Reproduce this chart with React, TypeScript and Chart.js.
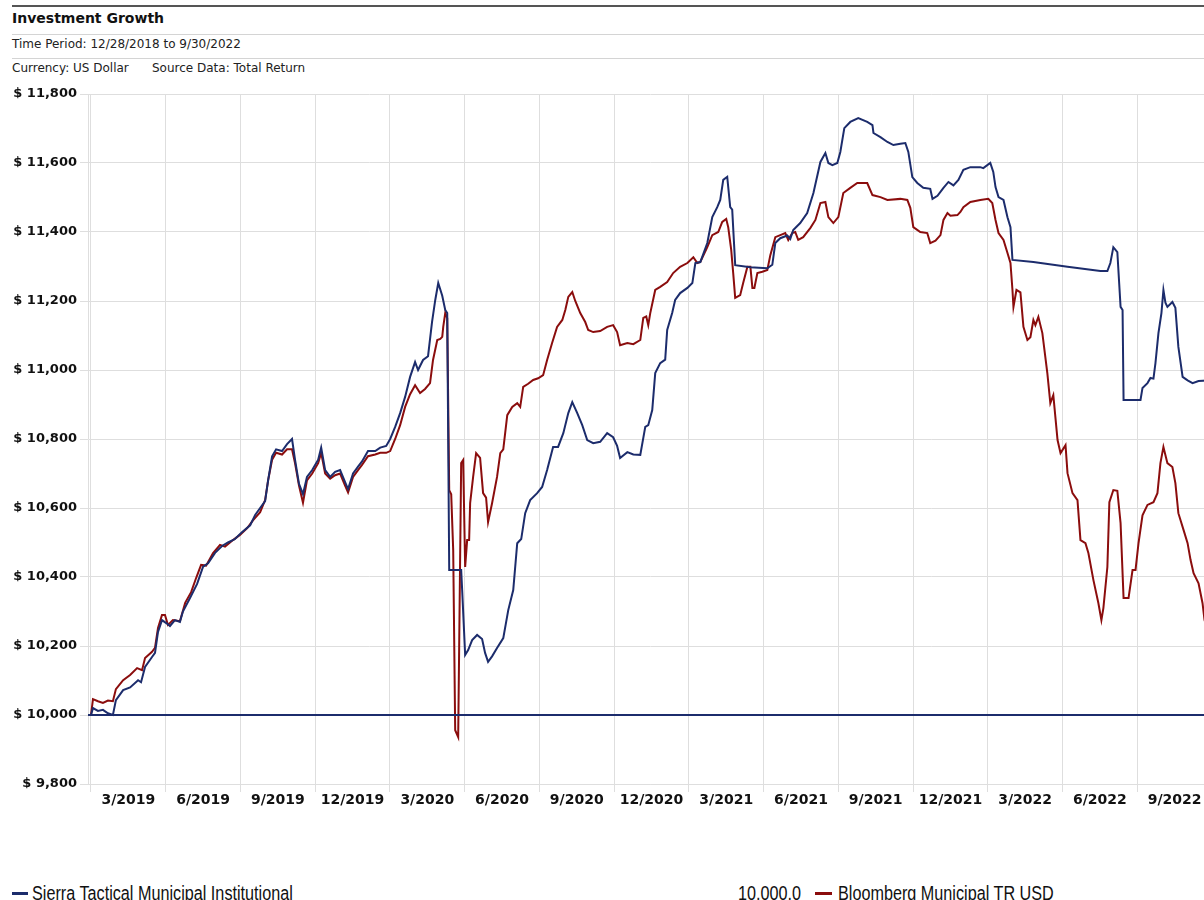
import React, { useEffect, useRef } from 'react';
import { Chart, registerables } from 'chart.js';

Chart.register(...registerables);

// Quarter labels (each label sits inside the quarter that ends in that month)
const quarterLabels = [
  '3/2019', '6/2019', '9/2019', '12/2019',
  '3/2020', '6/2020', '9/2020', '12/2020',
  '3/2021', '6/2021', '9/2021', '12/2021',
  '3/2022', '6/2022', '9/2022',
];

const yMin = 9800;
const yMax = 11800;
const yStep = 200;
const baselineValue = 10000;

// x values: months elapsed since 12/28/2018
const sierraMonths = [
  0, 0.08, 0.28, 0.48, 0.68, 0.88, 1.0, 1.29, 1.57, 1.89, 2.01, 2.17, 2.45, 2.57, 2.69, 2.85,
  3.05, 3.17, 3.37, 3.57, 3.69, 3.98, 4.26, 4.5, 4.7, 4.98, 5.26, 5.5, 5.78, 6.06, 6.39, 6.59,
  6.79, 6.99, 7.11, 7.27, 7.43, 7.67, 7.87, 8.07, 8.19, 8.35, 8.51, 8.67, 8.88, 9.12, 9.24, 9.4,
  9.6, 9.8, 10.0, 10.2, 10.32, 10.52, 10.72, 10.88, 11.12, 11.41, 11.61, 11.85, 12.01, 12.21,
  12.41, 12.61, 12.81, 13.01, 13.13, 13.33, 13.53, 13.69, 13.82, 13.94, 14.1, 14.22, 14.3, 14.38,
  14.86, 14.9, 15.02, 15.14, 15.3, 15.5, 15.7, 15.82, 15.94, 16.1, 16.3, 16.55, 16.75, 16.95,
  17.11, 17.27, 17.43, 17.63, 17.91, 18.11, 18.31, 18.55, 18.75, 18.96, 19.16, 19.32, 19.52,
  19.72, 19.92, 20.16, 20.44, 20.72, 20.96, 21.12, 21.24, 21.53, 21.77, 22.05, 22.25, 22.37,
  22.53, 22.65, 22.85, 23.05, 23.13, 23.33, 23.45, 23.65, 23.94, 24.14, 24.26, 24.46, 24.74,
  24.94, 25.14, 25.26, 25.38, 25.54, 25.66, 25.74, 25.86, 26.47, 27.15, 27.35, 27.47, 27.67,
  27.95, 28.07, 28.19, 28.47, 28.75, 29.0, 29.28, 29.48, 29.6, 29.76, 29.96, 30.08, 30.24,
  30.48, 30.8, 31.16, 31.37, 31.41, 31.69, 31.97, 32.21, 32.49, 32.69, 32.81, 32.97, 33.17,
  33.41, 33.69, 33.78, 33.98, 34.22, 34.42, 34.62, 34.82, 35.02, 35.3, 35.7, 35.82, 36.1, 36.22,
  36.31, 36.43, 36.63, 36.79, 36.91, 36.99, 37.83, 39.2, 40.52, 40.8, 40.92, 41.04, 41.2, 41.33,
  41.41, 41.45, 42.13, 42.21, 42.41, 42.53, 42.65, 42.73, 42.85, 42.97, 43.05, 43.13, 43.21,
  43.41, 43.53, 43.65, 43.82, 44.02, 44.22, 44.46, 45.0,
];
const sierraValues = [
  10000, 10020, 10012, 10015, 10005, 10000, 10043, 10072, 10080, 10101, 10095, 10139, 10168, 10180, 10241, 10275,
  10265, 10258, 10275, 10270, 10300, 10340, 10380, 10430, 10440, 10470, 10490, 10500, 10510, 10530, 10550, 10580,
  10600, 10620, 10680, 10750, 10770, 10765, 10785, 10800, 10740, 10670, 10640, 10690, 10710, 10740, 10775, 10710,
  10690, 10705, 10710, 10675, 10655, 10700, 10720, 10735, 10765, 10765, 10775, 10780, 10800, 10835,
  10875, 10922, 10980, 11023, 11000, 11029, 11040, 11139, 11203, 11252, 11215, 11174, 11165, 10420,
  10420, 10362, 10174, 10188, 10217, 10232, 10220, 10180, 10154, 10170, 10194, 10223, 10304, 10362,
  10498, 10510, 10585, 10623, 10643, 10661, 10710, 10777, 10777, 10817, 10875, 10907, 10875,
  10840, 10797, 10788, 10792, 10817, 10805, 10780, 10745, 10762, 10755, 10754, 10835, 10840,
  10884, 10991, 11020, 11030, 11116, 11165, 11203, 11223, 11238, 11252, 11310, 11313, 11368,
  11443, 11472, 11493, 11551, 11560, 11472, 11465, 11304, 11298, 11295, 11305, 11368, 11382,
  11390, 11380, 11406, 11426, 11455, 11513, 11603, 11629, 11600, 11594, 11600, 11632, 11701,
  11719, 11730, 11719, 11710, 11687, 11675, 11661, 11652, 11656, 11658, 11632, 11559, 11542,
  11528, 11525, 11496, 11505, 11528, 11545, 11535, 11551, 11580, 11588, 11588, 11585, 11600, 11574,
  11530, 11501, 11493, 11443, 11414, 11319, 11313, 11299, 11287, 11287, 11310, 11356, 11342, 11183,
  11174, 10913, 10913, 10948, 10962, 10977, 10975, 11020, 11107, 11165, 11232, 11195, 11183,
  11197, 11180, 11067, 10980, 10970, 10962, 10968, 10970,
];

const bloombergMonths = [
  0, 0.08, 0.28, 0.48, 0.68, 0.88, 1.0, 1.29, 1.57, 1.85, 2.05, 2.17, 2.45, 2.57, 2.69, 2.85, 2.97,
  3.09, 3.29, 3.57, 3.78, 4.02, 4.22, 4.42, 4.62, 4.9, 5.18, 5.38, 5.7, 5.98, 6.27, 6.51, 6.79,
  6.99, 7.11, 7.27, 7.43, 7.67, 7.87, 8.07, 8.19, 8.35, 8.51, 8.67, 8.88, 9.12, 9.24, 9.4, 9.6,
  9.8, 10.0, 10.2, 10.32, 10.52, 10.72, 10.88, 11.12, 11.41, 11.61, 11.85, 12.01, 12.21, 12.41,
  12.61, 12.81, 13.01, 13.21, 13.41, 13.61, 13.73, 13.9, 14.02, 14.1, 14.14, 14.22, 14.3, 14.38,
  14.46, 14.54, 14.62, 14.74, 14.78, 14.86, 14.94, 15.02, 15.1, 15.18, 15.22, 15.34, 15.46, 15.62,
  15.74, 15.86, 15.94, 16.1, 16.3, 16.43, 16.55, 16.71, 16.91, 17.11, 17.23, 17.35, 17.55, 17.75,
  17.95, 18.15, 18.31, 18.51, 18.71, 18.92, 19.04, 19.16, 19.32, 19.44, 19.64, 19.84, 19.96,
  20.16, 20.44, 20.72, 20.96, 21.12, 21.24, 21.53, 21.77, 22.05, 22.17, 22.29, 22.37, 22.45,
  22.65, 22.85, 23.13, 23.37, 23.65, 23.94, 24.18, 24.34, 24.46, 24.74, 24.94, 25.18, 25.34,
  25.5, 25.58, 25.7, 25.78, 25.86, 26.06, 26.18, 26.35, 26.47, 26.55, 26.63, 26.75, 26.95, 27.15,
  27.27, 27.47, 27.67, 27.87, 27.99, 28.15, 28.27, 28.39, 28.59, 28.88, 29.08, 29.28, 29.48,
  29.6, 29.8, 30.0, 30.2, 30.48, 30.76, 31.16, 31.37, 31.69, 31.97, 32.49, 32.77, 32.89, 33.01,
  33.29, 33.57, 33.69, 33.9, 34.1, 34.22, 34.38, 34.5, 34.78, 34.9, 35.02, 35.3, 35.7, 36.02,
  36.18, 36.31, 36.43, 36.63, 36.79, 36.91, 36.99, 37.03, 37.15, 37.31, 37.43, 37.59, 37.71,
  37.83, 37.91, 38.03, 38.19, 38.39, 38.51, 38.63, 38.8, 38.92, 39.12, 39.2, 39.4, 39.6, 39.72,
  39.92, 40.04, 40.24, 40.44, 40.56, 40.64, 40.8, 40.88, 41.04, 41.2, 41.33, 41.45, 41.65, 41.81,
  41.93, 42.05, 42.21, 42.41, 42.65, 42.81, 42.93, 43.05, 43.21, 43.41, 43.53, 43.65, 43.86,
  44.02, 44.14, 44.26, 44.46, 44.62, 44.7, 44.86, 45.0,
];
const bloombergValues = [
  10000, 10046, 10040, 10035, 10042, 10040, 10075, 10101, 10116, 10136, 10130, 10165, 10183, 10195, 10252, 10290, 10290,
  10261, 10275, 10272, 10325, 10356, 10397, 10435, 10433, 10469, 10493, 10488, 10507, 10522, 10542, 10565, 10588,
  10623, 10680, 10740, 10760, 10755, 10770, 10770, 10730, 10665, 10615, 10680, 10700, 10730, 10760, 10700, 10685,
  10695, 10700, 10665, 10645, 10690, 10710, 10725, 10750, 10755, 10760, 10760, 10765, 10800, 10840,
  10893, 10930, 10956, 10933, 10945, 10962, 11029, 11087, 11090, 11096, 11125, 11165, 11150, 10652,
  10640, 10478, 9956, 9936, 10200, 10730, 10739, 10429, 10507, 10507, 10614, 10690, 10759, 10745,
  10643, 10630, 10559, 10614, 10690, 10759, 10770, 10869, 10893, 10904, 10893, 10951, 10960, 10971,
  10976, 10985, 11029, 11078, 11125, 11145, 11174, 11212, 11226, 11200, 11165, 11139, 11116,
  11110, 11113, 11125, 11130, 11110, 11072, 11078, 11075, 11087, 11151, 11155, 11130, 11165,
  11232, 11241, 11255, 11281, 11299, 11310, 11327, 11310, 11313, 11356, 11391, 11400, 11429,
  11438, 11414, 11348, 11281, 11209, 11217, 11252, 11299, 11299, 11238, 11238, 11281, 11285, 11290,
  11333, 11385, 11391, 11397, 11377, 11397, 11400, 11377, 11385, 11412, 11435, 11484, 11487,
  11443, 11426, 11443, 11513, 11528, 11542, 11542, 11507, 11501, 11493, 11496, 11493, 11470, 11414,
  11400, 11397, 11368, 11375, 11391, 11435, 11455, 11447, 11449, 11458, 11472, 11487, 11493, 11496,
  11484, 11435, 11397, 11377, 11339, 11310, 11232, 11183, 11232, 11225, 11125, 11087, 11095,
  11145, 11130, 11154, 11107, 10991, 10904, 10927, 10797, 10759, 10782, 10701, 10643, 10623, 10507,
  10498, 10469, 10391, 10324, 10275, 10310, 10429, 10617, 10652, 10650, 10556, 10339, 10339, 10420,
  10420, 10498, 10579, 10609, 10617, 10643, 10730, 10777, 10730, 10719, 10672, 10585, 10536,
  10498, 10449, 10411, 10382, 10324, 10275, 10240, 10220,
];

const seriesNames = ['Sierra Tactical Municipal Institutional', 'Bloomberg Municipal TR USD'];
const baselineLegend = '10,000.0';

const NAVY = '#1c2c6c';
const RED = '#8b0d0d';
const GRID = '#dedede';

export default function App() {
  const canvasRef = useRef<HTMLCanvasElement>(null);

  useEffect(() => {
    const canvas = canvasRef.current;
    if (!canvas) return;
    const isBoundary = (v: number) => Math.abs(v / 3 - Math.round(v / 3)) < 0.001;
    const chart = new Chart(canvas, {
      type: 'line',
      data: {
        datasets: [
          {
            label: seriesNames[0],
            data: sierraMonths.map((m, i) => ({ x: m, y: sierraValues[i] })),
            borderColor: NAVY,
            borderWidth: 2,
            pointRadius: 0,
            tension: 0,
            order: 0,
          },
          {
            label: baselineLegend,
            data: [{ x: -0.12, y: baselineValue }, { x: 45, y: baselineValue }],
            borderColor: NAVY,
            borderWidth: 2,
            pointRadius: 0,
            order: 1,
          },
          {
            label: seriesNames[1],
            data: bloombergMonths.map((m, i) => ({ x: m, y: bloombergValues[i] })),
            borderColor: RED,
            borderWidth: 2,
            pointRadius: 0,
            tension: 0,
            order: 2,
          },
        ],
      },
      options: {
        responsive: false,
        animation: false,
        layout: { padding: { top: 14, right: 10, left: 0, bottom: 0 } },
        plugins: {
          legend: { display: false },
          tooltip: { enabled: false },
        },
        scales: {
          x: {
            type: 'linear',
            min: -0.12,
            max: 45,
            afterBuildTicks: (axis: any) => {
              const t: any[] = [];
              quarterLabels.forEach((_, i) => {
                t.push({ value: i * 3 });
                t.push({ value: i * 3 + 1.5 });
              });
              t.push({ value: 45 });
              axis.ticks = t;
            },
            afterFit: (axis: any) => {
              axis.height = 30;
            },
            ticks: {
              autoSkip: false,
              maxRotation: 0,
              minRotation: 0,
              padding: 0,
              color: '#111',
              font: { family: 'DejaVu Sans', size: 14, weight: 'bold' },
              callback: (value: any) => {
                const v = Number(value);
                if (isBoundary(v)) return '';
                const idx = Math.round((v - 1.5) / 3);
                return quarterLabels[idx] ?? '';
              },
            },
            grid: {
              color: (ctx: any) => (ctx.tick && isBoundary(ctx.tick.value) ? GRID : 'rgba(0,0,0,0)'),
              tickColor: (ctx: any) => (ctx.tick && isBoundary(ctx.tick.value) ? GRID : 'rgba(0,0,0,0)'),
              tickLength: 8,
              lineWidth: 1,
            },
            border: { display: true, color: GRID },
          },
          y: {
            min: yMin,
            max: yMax,
            afterFit: (axis: any) => {
              axis.width = 88;
            },
            ticks: {
              stepSize: yStep,
              padding: 3,
              color: '#111',
              font: { family: 'DejaVu Sans', size: 13, weight: 'bold' },
              callback: (value: any) => '$ ' + Number(value).toLocaleString('en-US'),
            },
            grid: { color: GRID, tickColor: GRID, tickLength: 8, lineWidth: 1 },
            border: { display: true, color: GRID },
          },
        },
      },
    } as any);
    return () => chart.destroy();
  }, []);

  const headerFont = '"DejaVu Sans", Verdana, sans-serif';
  const legendFont = '"Liberation Sans", Arial, sans-serif';
  const legendText: React.CSSProperties = {
    position: 'absolute',
    top: 883,
    fontFamily: legendFont,
    fontSize: 20,
    lineHeight: '20px',
    color: '#111',
    whiteSpace: 'nowrap',
    transform: 'scaleX(0.81)',
    transformOrigin: '0 0',
  };
  const headerText: React.CSSProperties = {
    position: 'absolute',
    fontFamily: headerFont,
    fontSize: 12,
    lineHeight: '16px',
    color: '#222',
    whiteSpace: 'nowrap',
  };

  return (
    <div
      style={{
        position: 'fixed',
        left: 0,
        top: 0,
        width: 1204,
        height: 900,
        overflow: 'hidden',
        background: '#fff',
      }}
    >
      <div style={{ position: 'absolute', left: 12, right: 0, top: 5, height: 2, background: '#555' }} />
      <div
        style={{
          position: 'absolute',
          left: 12,
          top: 9,
          fontFamily: headerFont,
          fontWeight: 'bold',
          fontSize: 14,
          lineHeight: '18px',
          color: '#111',
          whiteSpace: 'nowrap',
        }}
      >
        Investment Growth
      </div>
      <div style={{ position: 'absolute', left: 12, right: 0, top: 34, height: 1, background: '#d4d4d4' }} />
      <div style={{ ...headerText, left: 12, top: 36 }}>Time Period: 12/28/2018 to 9/30/2022</div>
      <div style={{ position: 'absolute', left: 12, right: 0, top: 58, height: 1, background: '#d4d4d4' }} />
      <div style={{ ...headerText, left: 12, top: 60 }}>Currency: US Dollar</div>
      <div style={{ ...headerText, left: 152, top: 60 }}>Source Data: Total Return</div>

      <canvas
        ref={canvasRef}
        width={1222}
        height={734}
        style={{ position: 'absolute', left: 0, top: 80, width: 1222, height: 734 }}
      />

      <div style={{ position: 'absolute', left: 12, top: 892, width: 16, height: 3, background: NAVY }} />
      <div style={{ ...legendText, left: 32 }}>{seriesNames[0]}</div>
      <div style={{ ...legendText, left: 738 }}>{baselineLegend}</div>
      <div style={{ position: 'absolute', left: 815, top: 892, width: 17, height: 3, background: RED }} />
      <div style={{ ...legendText, left: 838 }}>{seriesNames[1]}</div>
    </div>
  );
}
